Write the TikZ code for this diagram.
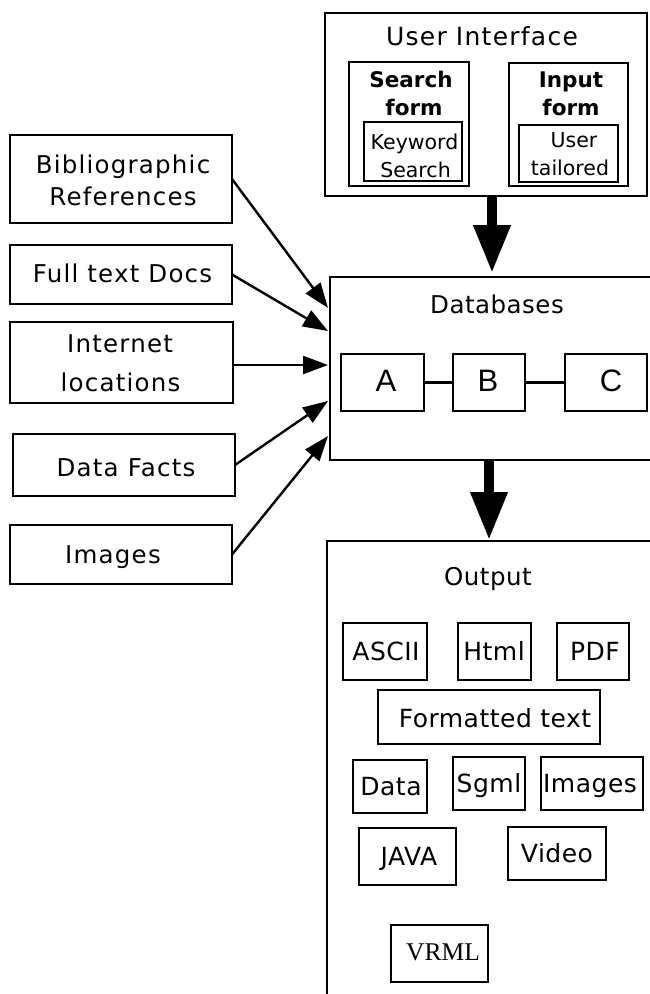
\documentclass[tikz,border=0pt]{standalone}
\usepackage{fontspec}
\setmainfont{DejaVu Sans}
\newfontfamily\gfont{DejaVu Sans}[LetterSpace=5]
\newfontfamily\hfont{DejaVu Sans}[LetterSpace=2]
\newfontfamily\afont{Liberation Sans}
\newfontfamily\tfont{Liberation Serif}
\usetikzlibrary{arrows.meta,fit}
\tikzset{
  box/.style={draw, line width=2.8pt, inner sep=0pt, outer sep=0pt},
  ibox/.style={draw, line width=2.5pt, inner sep=0pt, outer sep=0pt},
  lbl/.style={anchor=base, inner sep=0pt, outer sep=0pt},
  fTitle/.style={font=\gfont\fontsize{25}{30}\selectfont},
  fLeft/.style={font=\gfont\fontsize{24.5}{29}\selectfont},
  fHead/.style={font=\hfont\fontsize{24.5}{29}\selectfont},
  fMid/.style={font=\hfont\fontsize{25}{30}\selectfont},
  fBold/.style={font=\fontsize{21.5}{26}\selectfont\bfseries},
  fSmall/.style={font=\fontsize{20.5}{24}\selectfont},
  fLetter/.style={font=\afont\fontsize{31}{36}\selectfont},
  fSerif/.style={font=\tfont\fontsize{25.5}{30}\selectfont},
  arr/.style={line width=2.4pt, -{Triangle[length=25pt,width=18pt]}},
  bigarr/.style={line width=10pt, -{Triangle[length=48pt,width=35pt]}},
  link/.style={line width=2.4pt},
}
\begin{document}
\begin{tikzpicture}[x=1pt,y=-1pt]
\useasboundingbox (0,0) rectangle (650,994);
\clip (0,0) rectangle (650,994);

% ---------- User interface ----------
\node[box, fit={(325,13) (647,196)}] (ui) {};
\node[lbl, fTitle] (uit) at (482,45) {User Interface};
\node[box, fit={(349,62) (469,186)}] (sf) {};
\node[lbl, fBold] (sf1) at (411,87) {Search};
\node[lbl, fBold] (sf2) at (414,115) {form};
\node[box, fit={(364,122) (462,181)}] (kw) {};
\node[lbl, fSmall] (kw1) at (414.5,149) {Keyword};
\node[lbl, fSmall] (kw2) at (415.5,177) {Search};
\node[box, fit={(509,63) (628,186)}] (inf) {};
\node[lbl, fBold] (if1) at (571,87) {Input};
\node[lbl, fBold] (if2) at (571,115) {form};
\node[box, fit={(519,125) (618,182)}] (ut) {};
\node[lbl, fSmall] (ut1) at (574,147) {User};
\node[lbl, fSmall] (ut2) at (570,175) {tailored};

% ---------- Sources ----------
\node[box, fit={(10,135) (232,223)}] (bib) {};
\node[lbl, fLeft] (bib1) at (123,173) {Bibliographic};
\node[lbl, fLeft] (bib2) at (123,205) {References};
\node[box, fit={(10,245) (232,304)}] (full) {};
\node[lbl, fLeft] (fullt) at (122.5,282) {Full text Docs};
\node[box, fit={(10,322) (233,403)}] (inet) {};
\node[lbl, fLeft] (inet1) at (120,352) {Internet};
\node[lbl, fLeft] (inet2) at (120.5,391) {locations};
\node[box, fit={(13,434) (235,496)}] (facts) {};
\node[lbl, fLeft] (factst) at (126,476) {Data Facts};
\node[box, fit={(10,525) (232,584)}] (imgs) {};
\node[lbl, fLeft] (imgst) at (113,563) {Images};

% ---------- Databases ----------
\node[box, fit={(330,277) (665,460)}] (db) {};
\node[lbl, fHead] (dbt) at (497,313) {Databases};
\node[ibox, fit={(341,354) (424,411)}] (da) {};
\node[ibox, fit={(453,354) (525,411)}] (dbb) {};
\node[ibox, fit={(565,354) (647,411)}] (dc) {};
\node[lbl, fLetter] (dat) at (386,391) {A};
\node[lbl, fLetter] (dbbt) at (488,391) {B};
\node[lbl, fLetter] (dct) at (611,391) {C};
\draw[link] (da) -- (dbb);
\draw[link] (dbb) -- (dc);

% ---------- Output ----------
\node[box, fit={(327,541) (665,1005)}] (out) {};
\node[lbl, fHead] (outt) at (488,585) {Output};
\node[ibox, fit={(343,623) (427,680)}] (o1) {};
\node[lbl, fMid] (o1t) at (386,660) {ASCII};
\node[ibox, fit={(458,623) (531,680)}] (o2) {};
\node[lbl, fMid] (o2t) at (494,660) {Html};
\node[ibox, fit={(557,623) (629,680)}] (o3) {};
\node[lbl, fMid] (o3t) at (595,660) {PDF};
\node[ibox, fit={(378,690) (600,744)}] (o4) {};
\node[lbl, fMid] (o4t) at (495,727) {Formatted text};
\node[ibox, fit={(353,760) (427,813)}] (o5) {};
\node[lbl, fMid] (o5t) at (391,795) {Data};
\node[ibox, fit={(453,757) (525,810)}] (o6) {};
\node[lbl, fMid] (o6t) at (489,792) {Sgml};
\node[ibox, fit={(541,757) (643,810)}] (o7) {};
\node[lbl, fMid] (o7t) at (590,792) {Images};
\node[ibox, fit={(359,828) (456,885)}] (o8) {};
\node[lbl, fMid] (o8t) at (409,865) {JAVA};
\node[ibox, fit={(508,827) (606,880)}] (o9) {};
\node[lbl, fMid] (o9t) at (557,862) {Video};
\node[ibox, fit={(391,925) (488,982)}] (o10) {};
\node[lbl, fSerif] (o10t) at (443,960) {VRML};

% ---------- Connectors ----------
\coordinate (in1) at (328,308);
\coordinate (in2) at (328,331);
\coordinate (in3) at (328,365);
\coordinate (in4) at (328,401);
\coordinate (in5) at (328,436);
\draw[arr] (bib.east) -- (in1);
\draw[arr] (full.east) -- (in2);
\draw[arr] (inet.east |- in3) -- (in3);
\draw[arr] (facts.east) -- (in4);
\draw[arr] (imgs.east) -- (in5);

\draw[bigarr] ([xshift=6pt]ui.south) -- ([xshift=-5.5pt,yshift=4pt]db.north);
\draw[bigarr] ([xshift=-8.5pt]db.south) -- ([xshift=-7pt,yshift=1pt]out.north);
\end{tikzpicture}
\end{document}
